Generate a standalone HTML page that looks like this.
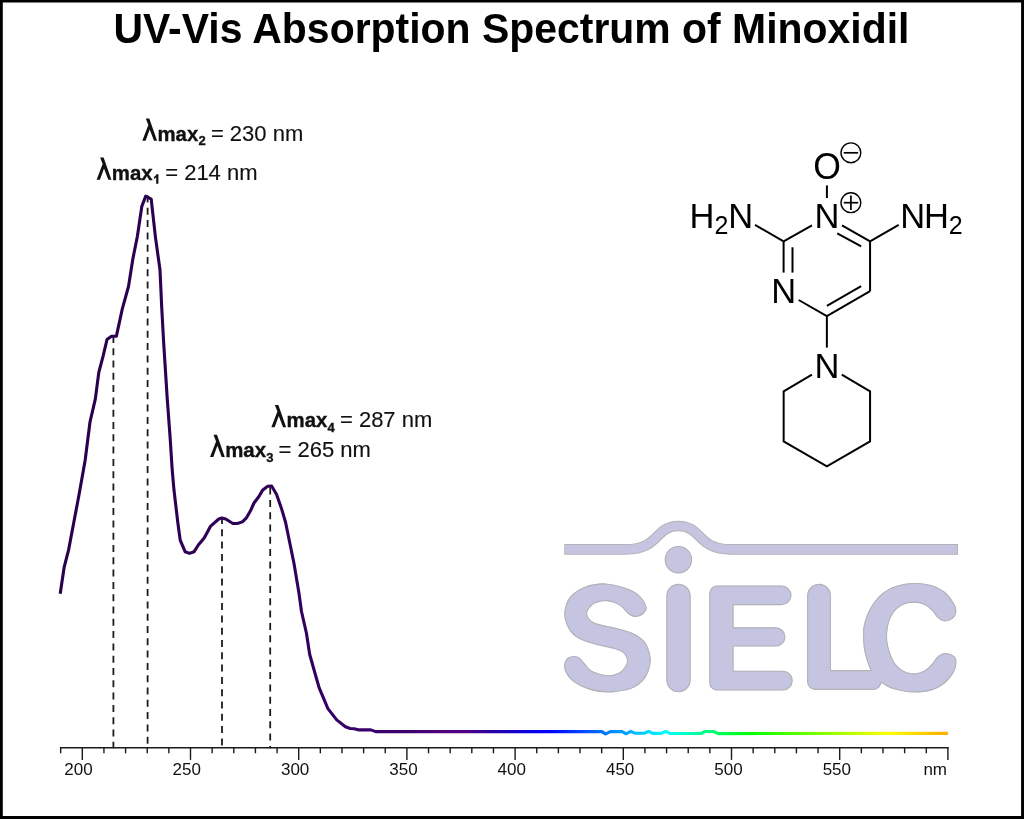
<!DOCTYPE html>
<html><head><meta charset="utf-8"><title>UV-Vis Absorption Spectrum of Minoxidil</title>
<style>
html,body{margin:0;padding:0;background:#fff;}
body{width:1024px;height:819px;overflow:hidden;font-family:"Liberation Sans",sans-serif;}
svg{display:block;font-family:"Liberation Sans",sans-serif;}
</style></head><body>
<svg width="1024" height="819" viewBox="0 0 1024 819">
<defs><linearGradient id="sp" gradientUnits="userSpaceOnUse" x1="60.0" y1="0" x2="948.0" y2="0"><stop offset="0.0000" stop-color="#28004B"/><stop offset="0.2477" stop-color="#30005A"/><stop offset="0.3829" stop-color="#3C006E"/><stop offset="0.4279" stop-color="#50007D"/><stop offset="0.4505" stop-color="#550082"/><stop offset="0.4730" stop-color="#3C0096"/><stop offset="0.4842" stop-color="#2800A0"/><stop offset="0.5068" stop-color="#1900BE"/><stop offset="0.5293" stop-color="#0A00E6"/><stop offset="0.5518" stop-color="#0000FF"/><stop offset="0.6824" stop-color="#00FFFF"/><stop offset="0.7770" stop-color="#00FF00"/><stop offset="0.9324" stop-color="#FFFF00"/><stop offset="1.0000" stop-color="#FFAA00"/></linearGradient></defs>
<rect x="0" y="0" width="1024" height="819" fill="#fff"/>
<g style="filter:opacity(0.9999)">
<!-- border -->
<path d="M0,0 H1024 V819 H0 Z M2.8,2.4 V816.1 H1021.1 V2.4 Z" fill="#000" fill-rule="evenodd"/>
<!-- title -->
<text transform="translate(511.5,42.8) scale(0.9985,1.035)" x="0" y="0" text-anchor="middle" font-size="41px" font-weight="bold" fill="#000">UV-Vis Absorption Spectrum of Minoxidil</text>
<!-- logo -->
<clipPath id="lg"><path d="M605.30,583.40 C612.42,583.78 622.35,586.53 628.20,588.70 C634.05,590.87 637.35,593.35 640.40,596.40 C643.45,599.45 645.98,604.08 646.50,607.00 C647.02,609.92 645.40,612.23 643.50,613.90 C641.60,615.57 637.65,617.00 635.10,617.00 C632.55,617.00 630.62,615.68 628.20,613.90 C625.78,612.12 623.13,608.20 620.60,606.30 C618.07,604.40 615.80,603.35 613.00,602.50 C610.20,601.65 606.98,600.95 603.80,601.20 C600.62,601.45 596.57,602.38 593.90,604.00 C591.23,605.62 588.82,608.87 587.80,610.90 C586.78,612.93 587.03,614.43 587.80,616.20 C588.57,617.97 590.23,620.10 592.40,621.50 C594.57,622.90 596.35,623.40 600.80,624.60 C605.25,625.80 613.52,627.18 619.10,628.70 C624.68,630.22 629.98,631.47 634.30,633.70 C638.62,635.93 642.32,638.40 645.00,642.10 C647.68,645.80 649.63,651.57 650.40,655.90 C651.17,660.23 650.75,664.03 649.60,668.10 C648.45,672.17 646.55,676.87 643.50,680.30 C640.45,683.73 637.15,686.67 631.30,688.70 C625.45,690.73 615.52,692.38 608.40,692.50 C601.28,692.62 594.45,691.18 588.60,689.40 C582.75,687.62 577.12,684.60 573.30,681.80 C569.48,679.00 567.22,675.52 565.70,672.60 C564.18,669.68 563.95,666.70 564.20,664.30 C564.45,661.90 565.55,659.60 567.20,658.20 C568.85,656.80 571.93,655.90 574.10,655.90 C576.27,655.90 578.30,656.80 580.20,658.20 C582.10,659.60 583.47,662.15 585.50,664.30 C587.53,666.45 588.83,669.28 592.40,671.10 C595.97,672.92 602.45,674.95 606.90,675.20 C611.35,675.45 615.93,674.30 619.10,672.60 C622.27,670.90 624.63,667.28 625.90,665.00 C627.17,662.72 627.20,660.93 626.70,658.90 C626.20,656.87 624.93,654.45 622.90,652.80 C620.87,651.15 618.70,650.27 614.50,649.00 C610.30,647.73 603.30,646.73 597.70,645.20 C592.10,643.67 585.47,642.08 580.90,639.80 C576.33,637.52 573.03,635.18 570.30,631.50 C567.57,627.82 565.27,622.03 564.50,617.70 C563.73,613.37 564.48,609.32 565.70,605.50 C566.92,601.68 568.50,597.98 571.80,594.80 C575.10,591.62 579.92,588.30 585.50,586.40 C591.08,584.50 598.18,583.02 605.30,583.40Z"/><path d="M666.3,596 A12.2,12.2 0 0 1 690.7,596 V680 A12.2,12.2 0 0 1 666.3,680 Z"/><path d="M717.2,585.5 H781.7 A9.85,9.85 0 0 1 781.7,605.2 H733.6 V627.3 H775.8 A9.6,9.6 0 0 1 775.8,646.5 H733.6 V670.7 H782.8 A9.95,9.95 0 0 1 782.8,690.6 H717.2 A8,8 0 0 1 709.2,682.6 V593.5 A8,8 0 0 1 717.2,585.5 Z"/><path d="M807.1,595.8 A11.95,11.95 0 0 1 831,595.8 V670.1 H870.5 C868.62,665.93 865.93,658.33 864.70,653.00 C863.47,647.67 863.23,642.80 863.10,638.10 C862.97,633.40 862.80,629.65 863.90,624.80 C865.00,619.95 866.80,614.12 869.70,609.00 C872.60,603.88 876.87,597.97 881.30,594.10 C885.73,590.23 890.90,587.67 896.30,585.80 C901.70,583.93 907.90,583.05 913.70,582.90 C919.50,582.75 925.98,583.45 931.10,584.90 C936.22,586.35 940.67,588.68 944.40,591.60 C948.13,594.52 951.50,599.22 953.50,602.40 C955.50,605.58 956.40,608.08 956.40,610.70 C956.40,613.32 955.37,616.30 953.50,618.10 C951.63,619.90 947.82,621.50 945.20,621.50 C942.58,621.50 940.00,619.90 937.80,618.10 C935.60,616.30 934.22,612.90 932.00,610.70 C929.78,608.50 927.55,606.23 924.50,604.90 C921.45,603.57 917.30,602.70 913.70,602.70 C910.10,602.70 906.08,603.43 902.90,604.90 C899.72,606.37 896.95,608.47 894.60,611.50 C892.25,614.53 890.05,618.67 888.80,623.10 C887.55,627.53 886.97,633.40 887.10,638.10 C887.23,642.80 888.22,647.02 889.60,651.30 C890.98,655.58 892.90,660.47 895.40,663.80 C897.90,667.13 901.42,669.72 904.60,671.30 C907.78,672.88 911.18,673.45 914.50,673.30 C917.82,673.15 921.58,671.98 924.50,670.40 C927.42,668.82 929.78,666.15 932.00,663.80 C934.22,661.45 935.60,658.10 937.80,656.30 C940.00,654.50 942.43,653.00 945.20,653.00 C947.97,653.00 952.53,654.63 954.40,656.30 C956.27,657.97 956.55,660.23 956.40,663.00 C956.25,665.77 955.50,669.45 953.50,672.90 C951.50,676.35 948.13,680.78 944.40,683.70 C940.67,686.62 936.22,688.93 931.10,690.40 C925.98,691.87 919.78,692.65 913.70,692.50 C907.62,692.35 900.00,691.10 894.60,689.50 C889.20,687.90 884.40,684.82 881.30,682.90 C880.5,687.5 877,689.9 872.2,689.9 H815.1 A8,8 0 0 1 807.1,681.9 Z"/><circle cx="678.4" cy="559.7" r="13.75"/></clipPath><g clip-path="url(#lg)" fill="#C5C5E2" stroke="#b2b2b7" stroke-width="2.2" stroke-linejoin="round"><path d="M605.30,583.40 C612.42,583.78 622.35,586.53 628.20,588.70 C634.05,590.87 637.35,593.35 640.40,596.40 C643.45,599.45 645.98,604.08 646.50,607.00 C647.02,609.92 645.40,612.23 643.50,613.90 C641.60,615.57 637.65,617.00 635.10,617.00 C632.55,617.00 630.62,615.68 628.20,613.90 C625.78,612.12 623.13,608.20 620.60,606.30 C618.07,604.40 615.80,603.35 613.00,602.50 C610.20,601.65 606.98,600.95 603.80,601.20 C600.62,601.45 596.57,602.38 593.90,604.00 C591.23,605.62 588.82,608.87 587.80,610.90 C586.78,612.93 587.03,614.43 587.80,616.20 C588.57,617.97 590.23,620.10 592.40,621.50 C594.57,622.90 596.35,623.40 600.80,624.60 C605.25,625.80 613.52,627.18 619.10,628.70 C624.68,630.22 629.98,631.47 634.30,633.70 C638.62,635.93 642.32,638.40 645.00,642.10 C647.68,645.80 649.63,651.57 650.40,655.90 C651.17,660.23 650.75,664.03 649.60,668.10 C648.45,672.17 646.55,676.87 643.50,680.30 C640.45,683.73 637.15,686.67 631.30,688.70 C625.45,690.73 615.52,692.38 608.40,692.50 C601.28,692.62 594.45,691.18 588.60,689.40 C582.75,687.62 577.12,684.60 573.30,681.80 C569.48,679.00 567.22,675.52 565.70,672.60 C564.18,669.68 563.95,666.70 564.20,664.30 C564.45,661.90 565.55,659.60 567.20,658.20 C568.85,656.80 571.93,655.90 574.10,655.90 C576.27,655.90 578.30,656.80 580.20,658.20 C582.10,659.60 583.47,662.15 585.50,664.30 C587.53,666.45 588.83,669.28 592.40,671.10 C595.97,672.92 602.45,674.95 606.90,675.20 C611.35,675.45 615.93,674.30 619.10,672.60 C622.27,670.90 624.63,667.28 625.90,665.00 C627.17,662.72 627.20,660.93 626.70,658.90 C626.20,656.87 624.93,654.45 622.90,652.80 C620.87,651.15 618.70,650.27 614.50,649.00 C610.30,647.73 603.30,646.73 597.70,645.20 C592.10,643.67 585.47,642.08 580.90,639.80 C576.33,637.52 573.03,635.18 570.30,631.50 C567.57,627.82 565.27,622.03 564.50,617.70 C563.73,613.37 564.48,609.32 565.70,605.50 C566.92,601.68 568.50,597.98 571.80,594.80 C575.10,591.62 579.92,588.30 585.50,586.40 C591.08,584.50 598.18,583.02 605.30,583.40Z"/><path d="M666.3,596 A12.2,12.2 0 0 1 690.7,596 V680 A12.2,12.2 0 0 1 666.3,680 Z"/><path d="M717.2,585.5 H781.7 A9.85,9.85 0 0 1 781.7,605.2 H733.6 V627.3 H775.8 A9.6,9.6 0 0 1 775.8,646.5 H733.6 V670.7 H782.8 A9.95,9.95 0 0 1 782.8,690.6 H717.2 A8,8 0 0 1 709.2,682.6 V593.5 A8,8 0 0 1 717.2,585.5 Z"/><path d="M807.1,595.8 A11.95,11.95 0 0 1 831,595.8 V670.1 H870.5 C868.62,665.93 865.93,658.33 864.70,653.00 C863.47,647.67 863.23,642.80 863.10,638.10 C862.97,633.40 862.80,629.65 863.90,624.80 C865.00,619.95 866.80,614.12 869.70,609.00 C872.60,603.88 876.87,597.97 881.30,594.10 C885.73,590.23 890.90,587.67 896.30,585.80 C901.70,583.93 907.90,583.05 913.70,582.90 C919.50,582.75 925.98,583.45 931.10,584.90 C936.22,586.35 940.67,588.68 944.40,591.60 C948.13,594.52 951.50,599.22 953.50,602.40 C955.50,605.58 956.40,608.08 956.40,610.70 C956.40,613.32 955.37,616.30 953.50,618.10 C951.63,619.90 947.82,621.50 945.20,621.50 C942.58,621.50 940.00,619.90 937.80,618.10 C935.60,616.30 934.22,612.90 932.00,610.70 C929.78,608.50 927.55,606.23 924.50,604.90 C921.45,603.57 917.30,602.70 913.70,602.70 C910.10,602.70 906.08,603.43 902.90,604.90 C899.72,606.37 896.95,608.47 894.60,611.50 C892.25,614.53 890.05,618.67 888.80,623.10 C887.55,627.53 886.97,633.40 887.10,638.10 C887.23,642.80 888.22,647.02 889.60,651.30 C890.98,655.58 892.90,660.47 895.40,663.80 C897.90,667.13 901.42,669.72 904.60,671.30 C907.78,672.88 911.18,673.45 914.50,673.30 C917.82,673.15 921.58,671.98 924.50,670.40 C927.42,668.82 929.78,666.15 932.00,663.80 C934.22,661.45 935.60,658.10 937.80,656.30 C940.00,654.50 942.43,653.00 945.20,653.00 C947.97,653.00 952.53,654.63 954.40,656.30 C956.27,657.97 956.55,660.23 956.40,663.00 C956.25,665.77 955.50,669.45 953.50,672.90 C951.50,676.35 948.13,680.78 944.40,683.70 C940.67,686.62 936.22,688.93 931.10,690.40 C925.98,691.87 919.78,692.65 913.70,692.50 C907.62,692.35 900.00,691.10 894.60,689.50 C889.20,687.90 884.40,684.82 881.30,682.90 C880.5,687.5 877,689.9 872.2,689.9 H815.1 A8,8 0 0 1 807.1,681.9 Z"/><circle cx="678.4" cy="559.7" r="13.75"/></g><path d="M564.3,549.4 H625.7 C660.4,549.4 654.5,526 678.4,526 C702.3,526 696.4,549.4 731.1,549.4 H958" stroke="#b2b2b7" stroke-width="10.6" fill="none"/><path d="M565.2,549.4 H625.7 C660.4,549.4 654.5,526 678.4,526 C702.3,526 696.4,549.4 731.1,549.4 H957.1" stroke="#C5C5E2" stroke-width="8.6" fill="none"/>
<!-- dashed markers -->
<g stroke="#1c1c1c" stroke-width="1.8" stroke-dasharray="7 5.3" fill="none"><line x1="113.40" y1="335.90" x2="113.40" y2="748.30"/><line x1="147.60" y1="195.50" x2="147.60" y2="748.30"/><line x1="222.00" y1="517.00" x2="222.00" y2="748.30"/><line x1="270.20" y1="487.60" x2="270.20" y2="748.30"/></g>
<!-- spectrum -->
<path d="M60.20,593.80 L64.10,567.40 L68.60,549.90 L73.40,524.50 L79.30,493.20 L85.20,460.00 L86.10,452.80 L90.00,422.00 L95.30,399.10 L98.80,372.40 L103.10,356.10 L107.00,339.50 L111.50,336.20 L116.40,336.20 L122.30,308.90 L128.50,286.50 L133.00,258.10 L137.30,236.70 L141.80,206.40 L145.70,196.20 L151.20,199.10 L155.50,237.60 L160.00,269.90 L161.70,307.00 L163.70,343.40 L167.20,398.10 L170.10,437.20 L172.10,468.50 L173.90,489.30 L177.80,522.50 L180.20,540.10 L185.20,551.80 L189.50,553.40 L194.00,551.80 L198.30,545.00 L204.20,538.10 L210.40,526.40 L218.80,519.00 L221.80,518.00 L225.70,519.00 L232.90,523.50 L237.40,523.50 L242.30,521.90 L246.20,518.20 L250.50,510.80 L254.00,503.00 L258.90,496.50 L262.80,489.90 L267.70,486.20 L271.60,486.00 L276.50,494.20 L281.30,507.90 L285.60,522.50 L289.60,542.00 L294.00,563.50 L298.90,592.80 L301.50,611.50 L306.40,633.00 L309.70,654.50 L315.20,674.00 L319.10,687.70 L327.90,708.60 L336.70,719.90 L345.40,726.70 L350.30,728.50 L354.20,728.70 L359.10,729.90 L370.80,729.90 L375.70,731.60 L601.90,731.60 L605.50,733.90 L610.50,731.60 L622.20,731.60 L626.10,733.80 L630.80,731.40 L634.70,733.20 L644.10,733.20 L648.75,731.40 L652.70,733.40 L661.25,733.40 L665.90,731.40 L669.80,733.50 L701.10,733.50 L705.00,731.50 L713.60,731.50 L718.30,733.60 L947.90,733.40" fill="none" stroke="url(#sp)" stroke-width="3.1" stroke-linejoin="round" stroke-linecap="butt"/>
<!-- axis -->
<g stroke="#1a1a1a" stroke-width="1.4" fill="none"><line x1="60.66" y1="747.70" x2="947.90" y2="747.70" stroke-linecap="square"/><line x1="60.66" y1="747.70" x2="60.66" y2="753.30"/><line x1="82.30" y1="747.70" x2="82.30" y2="759.90"/><line x1="103.94" y1="747.70" x2="103.94" y2="753.30"/><line x1="125.58" y1="747.70" x2="125.58" y2="753.30"/><line x1="147.22" y1="747.70" x2="147.22" y2="753.30"/><line x1="168.86" y1="747.70" x2="168.86" y2="753.30"/><line x1="190.50" y1="747.70" x2="190.50" y2="759.90"/><line x1="212.14" y1="747.70" x2="212.14" y2="753.30"/><line x1="233.78" y1="747.70" x2="233.78" y2="753.30"/><line x1="255.42" y1="747.70" x2="255.42" y2="753.30"/><line x1="277.06" y1="747.70" x2="277.06" y2="753.30"/><line x1="298.70" y1="747.70" x2="298.70" y2="759.90"/><line x1="320.34" y1="747.70" x2="320.34" y2="753.30"/><line x1="341.98" y1="747.70" x2="341.98" y2="753.30"/><line x1="363.62" y1="747.70" x2="363.62" y2="753.30"/><line x1="385.26" y1="747.70" x2="385.26" y2="753.30"/><line x1="406.90" y1="747.70" x2="406.90" y2="759.90"/><line x1="428.54" y1="747.70" x2="428.54" y2="753.30"/><line x1="450.18" y1="747.70" x2="450.18" y2="753.30"/><line x1="471.82" y1="747.70" x2="471.82" y2="753.30"/><line x1="493.46" y1="747.70" x2="493.46" y2="753.30"/><line x1="515.10" y1="747.70" x2="515.10" y2="759.90"/><line x1="536.74" y1="747.70" x2="536.74" y2="753.30"/><line x1="558.38" y1="747.70" x2="558.38" y2="753.30"/><line x1="580.02" y1="747.70" x2="580.02" y2="753.30"/><line x1="601.66" y1="747.70" x2="601.66" y2="753.30"/><line x1="623.30" y1="747.70" x2="623.30" y2="759.90"/><line x1="644.94" y1="747.70" x2="644.94" y2="753.30"/><line x1="666.58" y1="747.70" x2="666.58" y2="753.30"/><line x1="688.22" y1="747.70" x2="688.22" y2="753.30"/><line x1="709.86" y1="747.70" x2="709.86" y2="753.30"/><line x1="731.50" y1="747.70" x2="731.50" y2="759.90"/><line x1="753.14" y1="747.70" x2="753.14" y2="753.30"/><line x1="774.78" y1="747.70" x2="774.78" y2="753.30"/><line x1="796.42" y1="747.70" x2="796.42" y2="753.30"/><line x1="818.06" y1="747.70" x2="818.06" y2="753.30"/><line x1="839.70" y1="747.70" x2="839.70" y2="759.90"/><line x1="861.34" y1="747.70" x2="861.34" y2="753.30"/><line x1="882.98" y1="747.70" x2="882.98" y2="753.30"/><line x1="904.62" y1="747.70" x2="904.62" y2="753.30"/><line x1="926.26" y1="747.70" x2="926.26" y2="753.30"/><line x1="947.90" y1="747.70" x2="947.90" y2="759.90"/></g><g font-size="17px" fill="#111"><text x="64.25" y="775.1">200</text><text x="172.59" y="775.1">250</text><text x="280.93" y="775.1">300</text><text x="389.27" y="775.1">350</text><text x="497.61" y="775.1">400</text><text x="605.95" y="775.1">450</text><text x="714.29" y="775.1">500</text><text x="822.63" y="775.1">550</text><text x="923.4" y="775.1">nm</text></g>
<!-- labels -->
<g fill="#111"><g transform="translate(96.60,179.80)"><path d="M3.5,-22.3 L7,-22.3 L14.8,0 L11.7,0 L7.4,-11.4 L3.3,0 L0,0 L6.05,-15.7 Z" fill="#111"/><text x="15.2" y="0" font-size="20.4px" font-weight="bold" stroke="#111" stroke-width="0.35">max</text><path d="M61.8,4 V-5.5 H59.9 C59.5,-4.4 58.4,-3.3 57.3,-2.8 V-0.9 C58.2,-1.3 59.1,-1.9 59.6,-2.6 V4 Z" fill="#111"/><text x="68.6" y="0" font-size="22px" stroke="#111" stroke-width="0.15">= 214 nm</text></g><g transform="translate(142.30,140.80)"><path d="M3.5,-22.3 L7,-22.3 L14.8,0 L11.7,0 L7.4,-11.4 L3.3,0 L0,0 L6.05,-15.7 Z" fill="#111"/><text x="15.2" y="0" font-size="20.4px" font-weight="bold" stroke="#111" stroke-width="0.35">max</text><text x="56.2" y="4.4" font-size="13px" font-weight="bold" stroke="#111" stroke-width="0.35">2</text><text x="68.6" y="0" font-size="22px" stroke="#111" stroke-width="0.15">= 230 nm</text></g><g transform="translate(210.00,457.10)"><path d="M3.5,-22.3 L7,-22.3 L14.8,0 L11.7,0 L7.4,-11.4 L3.3,0 L0,0 L6.05,-15.7 Z" fill="#111"/><text x="15.2" y="0" font-size="20.4px" font-weight="bold" stroke="#111" stroke-width="0.35">max</text><text x="56.2" y="4.4" font-size="13px" font-weight="bold" stroke="#111" stroke-width="0.35">3</text><text x="68.6" y="0" font-size="22px" stroke="#111" stroke-width="0.15">= 265 nm</text></g><g transform="translate(271.35,427.30)"><path d="M3.5,-22.3 L7,-22.3 L14.8,0 L11.7,0 L7.4,-11.4 L3.3,0 L0,0 L6.05,-15.7 Z" fill="#111"/><text x="15.2" y="0" font-size="20.4px" font-weight="bold" stroke="#111" stroke-width="0.35">max</text><text x="56.2" y="4.4" font-size="13px" font-weight="bold" stroke="#111" stroke-width="0.35">4</text><text x="68.6" y="0" font-size="22px" stroke="#111" stroke-width="0.15">= 287 nm</text></g></g>
<!-- molecule -->
<g stroke="#000" stroke-width="2" fill="none" stroke-linecap="butt" stroke-linejoin="miter"><line x1="812.00" y1="225.30" x2="783.60" y2="241.30"/><line x1="755.00" y1="224.90" x2="783.60" y2="241.30"/><line x1="783.60" y1="241.30" x2="783.60" y2="272.60"/><line x1="792.50" y1="247.30" x2="792.50" y2="272.60"/><line x1="798.70" y1="300.00" x2="826.86" y2="316.15"/><line x1="826.86" y1="316.15" x2="870.06" y2="291.10"/><line x1="826.90" y1="305.90" x2="861.20" y2="286.10"/><line x1="870.06" y1="291.10" x2="870.06" y2="241.30"/><line x1="870.06" y1="241.30" x2="842.00" y2="225.30"/><line x1="861.20" y1="246.40" x2="837.25" y2="233.30"/><line x1="870.06" y1="241.30" x2="898.70" y2="224.90"/><line x1="826.90" y1="185.40" x2="826.90" y2="198.00"/><line x1="826.86" y1="316.15" x2="826.86" y2="347.60"/><path d="M811.95,374.7 L783.65,391.3 L783.65,441.3 L826.86,466.4 L870.06,441.3 L870.06,391.3 L841.76,374.7"/><g stroke-width="1.4"><circle cx="850.9" cy="152.8" r="9.9"/><circle cx="850.9" cy="202.7" r="9.9"/></g><g stroke-width="1.7"><line x1="843.7" y1="152.8" x2="858.2" y2="152.8"/><line x1="843.7" y1="202.7" x2="858.2" y2="202.7"/><line x1="850.9" y1="195.5" x2="850.9" y2="209.9"/></g></g><g font-size="34.5px" fill="#000"><text x="689.5" y="228.4">H<tspan font-size="25px" dy="5.6">2</tspan><tspan dy="-5.6">N</tspan></text><text x="900.3" y="228.4">N</text><text x="924.0" y="228.4">H</text><text x="948.7" y="234.0" font-size="25px">2</text><text x="826.9" y="228.3" text-anchor="middle">N</text><text transform="translate(827.0,179.3) scale(1,1.045)" text-anchor="middle" font-size="35.6px">O</text><text x="783.8" y="303.0" text-anchor="middle">N</text><text x="827.0" y="378.0" text-anchor="middle">N</text></g>
</g>
</svg>
</body></html>
